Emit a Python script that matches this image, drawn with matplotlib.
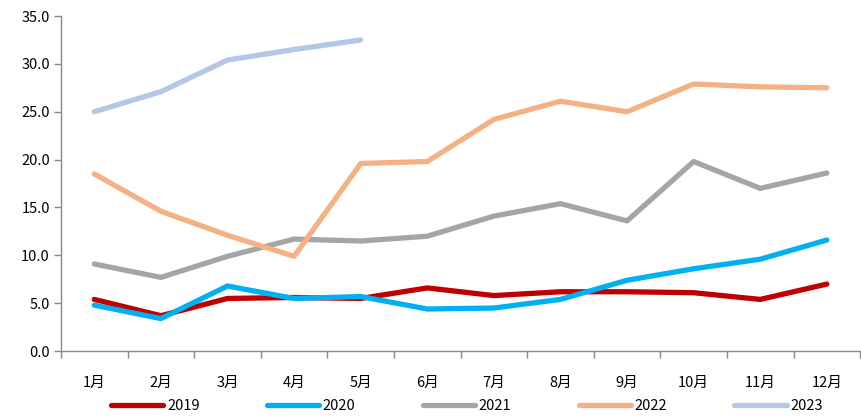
import matplotlib
matplotlib.use("Agg")
import matplotlib.pyplot as plt
import numpy as np

plt.rcParams['font.family'] = ['Noto Sans CJK SC', 'DejaVu Sans']

months = ["1月", "2月", "3月", "4月", "5月", "6月", "7月", "8月", "9月", "10月", "11月", "12月"]
s2019 = [5.4, 3.7, 5.5, 5.6, 5.5, 6.6, 5.8, 6.2, 6.2, 6.1, 5.4, 7.0]
s2020 = [4.8, 3.4, 6.8, 5.5, 5.7, 4.4, 4.5, 5.4, 7.4, 8.6, 9.6, 11.6]
s2021 = [9.1, 7.7, 9.9, 11.7, 11.5, 12.0, 14.1, 15.4, 13.6, 19.8, 17.0, 18.6]
s2022 = [18.5, 14.6, 12.1, 9.9, 19.6, 19.8, 24.2, 26.1, 25.0, 27.9, 27.6, 27.5]
s2023 = [25.0, 27.1, 30.4, 31.5, 32.5]
labels = ["2019", "2020", "2021", "2022", "2023"]
colors = ["#C00000", "#00B0F0", "#A5A5A5", "#F4B183", "#B4C7E7"]

fig = plt.figure(figsize=(8.62, 4.17), dpi=100)
ax = fig.add_axes([0.0708, 0.158, 0.927, 0.8036])

series = [s2019, s2020, s2021, s2022, s2023]
for s, lab, c in zip(series, labels, colors):
    x = np.arange(len(s))
    ax.plot(x, s, color=c, lw=3.8, label=lab, solid_capstyle='round', solid_joinstyle='round')

ax.set_xlim(-0.5, 11.5)
ax.set_ylim(0, 35)
ax.set_yticks(np.arange(0, 35.1, 5))
ax.set_yticklabels([f"{v:.1f}" for v in np.arange(0, 35.1, 5)], fontsize=10.5)
ax.set_xticks(np.arange(12))
ax.set_xticklabels(months, fontsize=10.5)
ax.set_xticks(np.arange(-0.5, 12, 1), minor=True)
ax.tick_params(axis='x', which='major', length=0, pad=18)
ax.tick_params(axis='x', which='minor', length=5, color='#898989', width=1, direction='out')
ax.tick_params(axis='y', length=5, color='#898989', width=1, direction='out', pad=3)

for sp in ['top', 'right']:
    ax.spines[sp].set_visible(False)
for sp in ['left', 'bottom']:
    ax.spines[sp].set_color('#898989')
    ax.spines[sp].set_linewidth(1)

handles, labs = ax.get_legend_handles_labels()
fig.legend(handles, labs, loc='center', bbox_to_anchor=(467 / 862, 0.026), ncol=5, frameon=False,
           fontsize=10.5, handlelength=3.6, columnspacing=4.6, handletextpad=0.25,
           borderaxespad=0, borderpad=0)

fig.savefig("out.png", dpi=100)
